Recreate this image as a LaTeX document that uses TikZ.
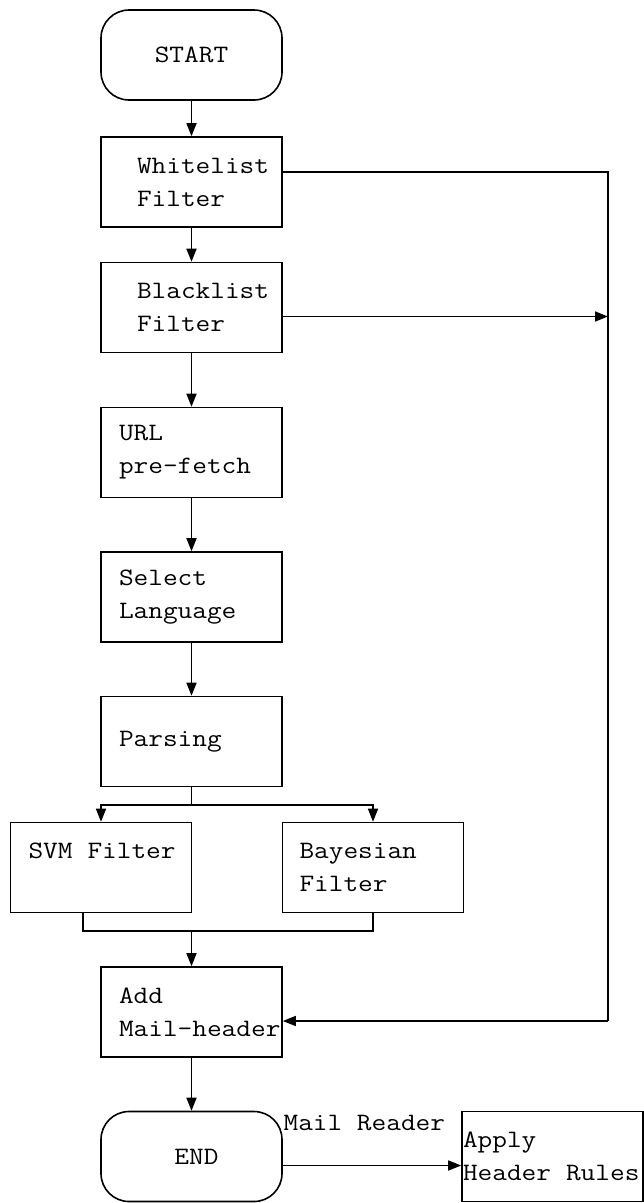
\documentclass[tikz,border=0pt]{standalone}
\usepackage{fontspec}
\setmainfont{Latin Modern Mono}[FakeStretch=1.14, WordSpace={1,0,0}]
\usetikzlibrary{arrows.meta}
\newcommand{\mgap}{\kern15pt}

\tikzset{
  stepbox/.style={draw, rectangle, minimum width=181pt, minimum height=90pt,
    align=left, inner xsep=#1, text width=181pt-2*#1},
  termbox/.style={draw, rectangle, rounded corners=28pt, minimum width=181pt,
    minimum height=90pt, align=center},
  flow/.style={-{Triangle[length=13pt,width=10pt]}}
}

\begin{document}
\begin{tikzpicture}[x=1pt,y=-1pt,line width=1.6pt,
  font=\fontsize{25pt}{33pt}\selectfont,
  execute at begin node={\hyphenpenalty=10000 \exhyphenpenalty=10000 \hbadness=10000 \hfuzz=\maxdimen}]
\useasboundingbox (0,0) rectangle (644,1203);
% main column
\node[termbox] (start) at (191.5,55) {START};
\node[stepbox=36pt] (wl) at (191.5,182) {Whitelist\\Filter};
\node[stepbox=36pt] (bl) at (191.5,307.5) {Blacklist\\Filter};
\node[stepbox=18pt] (url) at (191.5,452.5) {URL\\pre-fetch};
\node[stepbox=18pt] (sel) at (191.5,597) {Select\\Language};
\node[stepbox=18pt] (pars) at (191.5,741.5) {Parsing};
\node[stepbox=18pt] (svm) at (101,867.5) {SVM\mgap Filter\\\mbox{}};
\node[stepbox=17pt] (bay) at (373,867.5) {Bayesian\\Filter};
\node[stepbox=18pt] (add) at (191.5,1012) {Add\\Mail-header};
\node[termbox] (end) at (191.5,1156.5) {\hspace*{10pt}END};
\node[stepbox=1pt] (apply) at (552.5,1156.5) {Apply\\Header\mgap Rules};
\coordinate (split) at (191.5,805);
\coordinate (join) at (191.5,931);
\coordinate (railtop) at (608,172);
\coordinate (railmid) at (608,316.5);
\coordinate (railbot) at (608,1021);

\draw[flow] (start) -- (wl);
\draw[flow] (wl) -- (bl);
\draw[flow] (bl) -- (url);
\draw[flow] (url) -- (sel);
\draw[flow] (sel) -- (pars);
\draw (pars) -- (split);
\draw[flow] (split) -| (svm);
\draw[flow] (split) -| (bay);
\draw ([xshift=-18pt]svm.south) |- (join);
\draw (bay.south) |- (join);
\draw[flow] (join) -- (add);
\draw[flow] (add) -- (end);
% filtered mail bypass
\draw ([yshift=10pt]wl.east) -- (railtop) -- (railbot);
\draw[flow] ([yshift=-9pt]bl.east) -- (railmid);
\draw[flow] (railbot) -- ([yshift=-9pt]add.east);
\draw[flow] ([yshift=-9pt]end.east) -- ([yshift=-9pt]apply.west)
  node[pos=0, anchor=west, inner xsep=0pt, yshift=42.5pt] (mr) {Mail Reader};
\end{tikzpicture}
\end{document}
